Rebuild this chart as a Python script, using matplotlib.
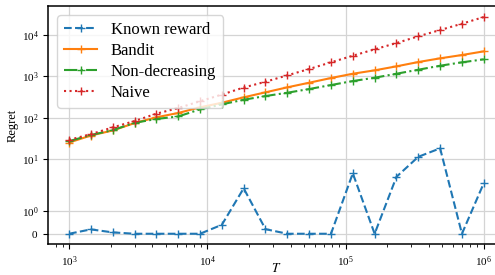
import numpy as np
import matplotlib
matplotlib.use('Agg')
from matplotlib import pyplot as plt
from matplotlib.ticker import NullLocator

plt.rcParams['font.family'] = ['Liberation Serif', 'DejaVu Serif']
plt.rcParams['mathtext.fontset'] = 'stix'

# horizons T (20 points, log spaced from 1e3 to 1e6)
T = [1000, 1438, 2069, 2976, 4281, 6158, 8859, 12743, 18330, 26367,
     37927, 54556, 78476, 112884, 162378, 233572, 335982, 483293, 695193, 1000000]

known_reward = [0, 0.19, 0.06, 0, 0, 0, 0, 0.39, 1.98, 0.2,
                0, 0, 0, 4.5, 0, 3.7, 11.3, 18.1, 0, 2.6]
bandit = [25, 37, 49, 74, 102, 130, 178, 230, 311, 411,
          543, 702, 912, 1159, 1400, 1750, 2224, 2735, 3289, 4037]
non_decreasing = [27, 38, 50, 75, 93, 107, 159, 210, 272, 334,
                  402, 494, 617, 771, 927, 1159, 1449, 1811, 2188, 2588]
naive = [29, 40, 58, 83, 125, 171, 250, 363, 537, 741,
         1060, 1507, 2188, 3162, 4518, 6412, 9332, 13244, 18836, 27354]

fig = plt.figure(figsize=(4.95, 2.75), dpi=100)
# axes run a little past the right edge, like the cropped original
ax = fig.add_axes([0.0976, 0.1116, 0.9216, 0.8665])

ax.plot(T, known_reward, '--', marker='+', color='C0', label='Known reward')
ax.plot(T, bandit, '-', marker='+', color='C1', label='Bandit')
ax.plot(T, non_decreasing, '-.', marker='+', color='C2', label='Non-decreasing')
ax.plot(T, naive, ':', marker='+', color='C3', label='Naive')

ax.set_xscale('log')
ax.set_yscale('symlog', linthresh=2)
ax.set_xlim(10 ** 2.85, 10 ** 6.15)
ax.set_ylim(-0.46, 50500)
ax.set_yticks([0, 1, 10, 100, 1000, 10000])
ax.yaxis.set_minor_locator(NullLocator())

ax.grid(True, which='major', color='#d4d4d4', linewidth=0.9)
ax.set_axisbelow(True)
ax.tick_params(labelsize=8)
for s in ax.spines.values():
    s.set_linewidth(1.1)

ax.set_xlabel('$T$', fontsize=9.5, labelpad=-5)
ax.set_ylabel('Regret', fontsize=9, labelpad=2)

ax.legend(loc='upper left', fontsize=12, handlelength=2.0, labelspacing=0.3,
          borderaxespad=0.55, handletextpad=0.8)

fig.savefig('out.png', dpi=100)
